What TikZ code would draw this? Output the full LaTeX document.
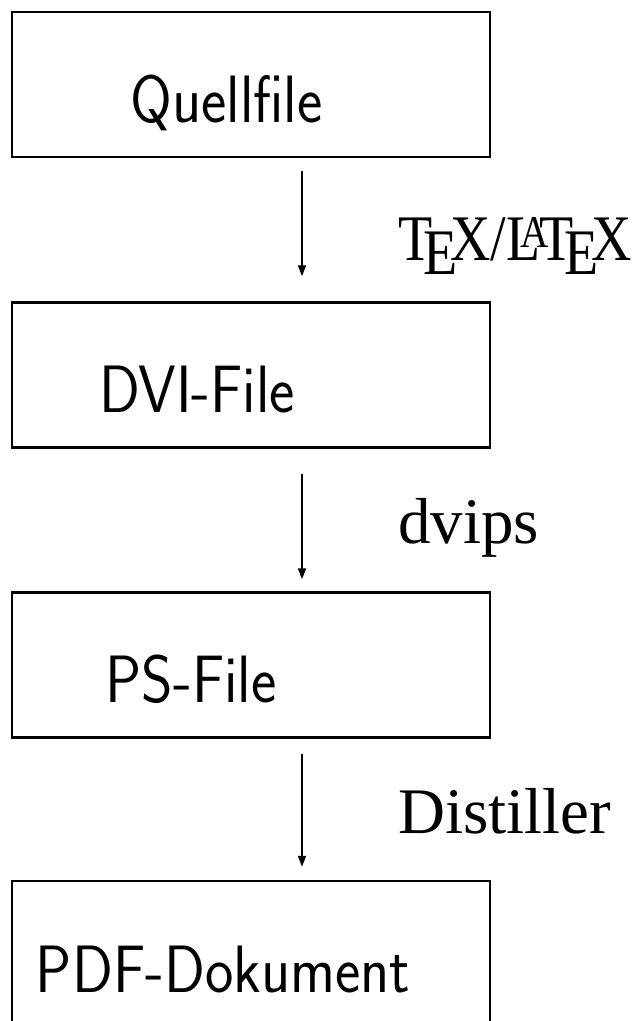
\documentclass[tikz,border=0pt]{standalone}
\usepackage{fontspec}
\usetikzlibrary{arrows.meta}
\newfontfamily\boxfont{lmsans17-regular}[Extension=.otf, FakeStretch=0.9]
\newfontfamily\toolfont{Liberation Serif}

\tikzset{
  stage/.style={draw=black, line width=2.5pt, minimum width=478pt, minimum height=145pt, inner sep=0pt},
  stagetext/.style={anchor=base, inner sep=0pt, font=\boxfont\fontsize{67}{78}\selectfont},
  tooltext/.style={anchor=base west, inner sep=0pt, font=\toolfont\fontsize{65}{78}\selectfont},
  flow/.style={line width=1.8pt, -{Triangle[length=11pt,width=8pt]}}
}

\begin{document}
\begin{tikzpicture}[x=1pt,y=1pt]
\clip (0,0) rectangle (633,-1021);
% Boxen
\node [stage] (quell) at (251,-84.5) {};
\node [stage] (dvi) at (251,-375) {};
\node [stage] (ps) at (251,-665) {};
\node [stage] (pdf) at (251,-953.5) {};
\node [stagetext] (quelltext) at (226.5,-122) {Quellfile};
\node [stagetext] (dvitext) at (197,-412) {DVI-File};
\node [stagetext] (pstext) at (191,-702) {PS-File};
\node [stagetext] (pdftext) at (223,-992) {PDF-Dokument};
% Pfeile
\draw [flow, shorten <=13pt, shorten >=25pt] ([xshift=51pt]quell.south) -- ([xshift=51pt]dvi.north);
\node [tooltext] (tex) at (398,-260) {\scalebox{0.86}[1]{\TeX/\LaTeX}};
\draw [flow, shorten <=25pt, shorten >=12pt] ([xshift=51pt]dvi.south) -- ([xshift=51pt]ps.north);
\node [tooltext] (dvips) at (398,-543) {dvips};
\draw [flow, shorten <=15pt, shorten >=13pt] ([xshift=51pt]ps.south) -- ([xshift=51pt]pdf.north);
\node [tooltext] (distiller) at (398,-833) {Distiller};
\end{tikzpicture}
\end{document}
